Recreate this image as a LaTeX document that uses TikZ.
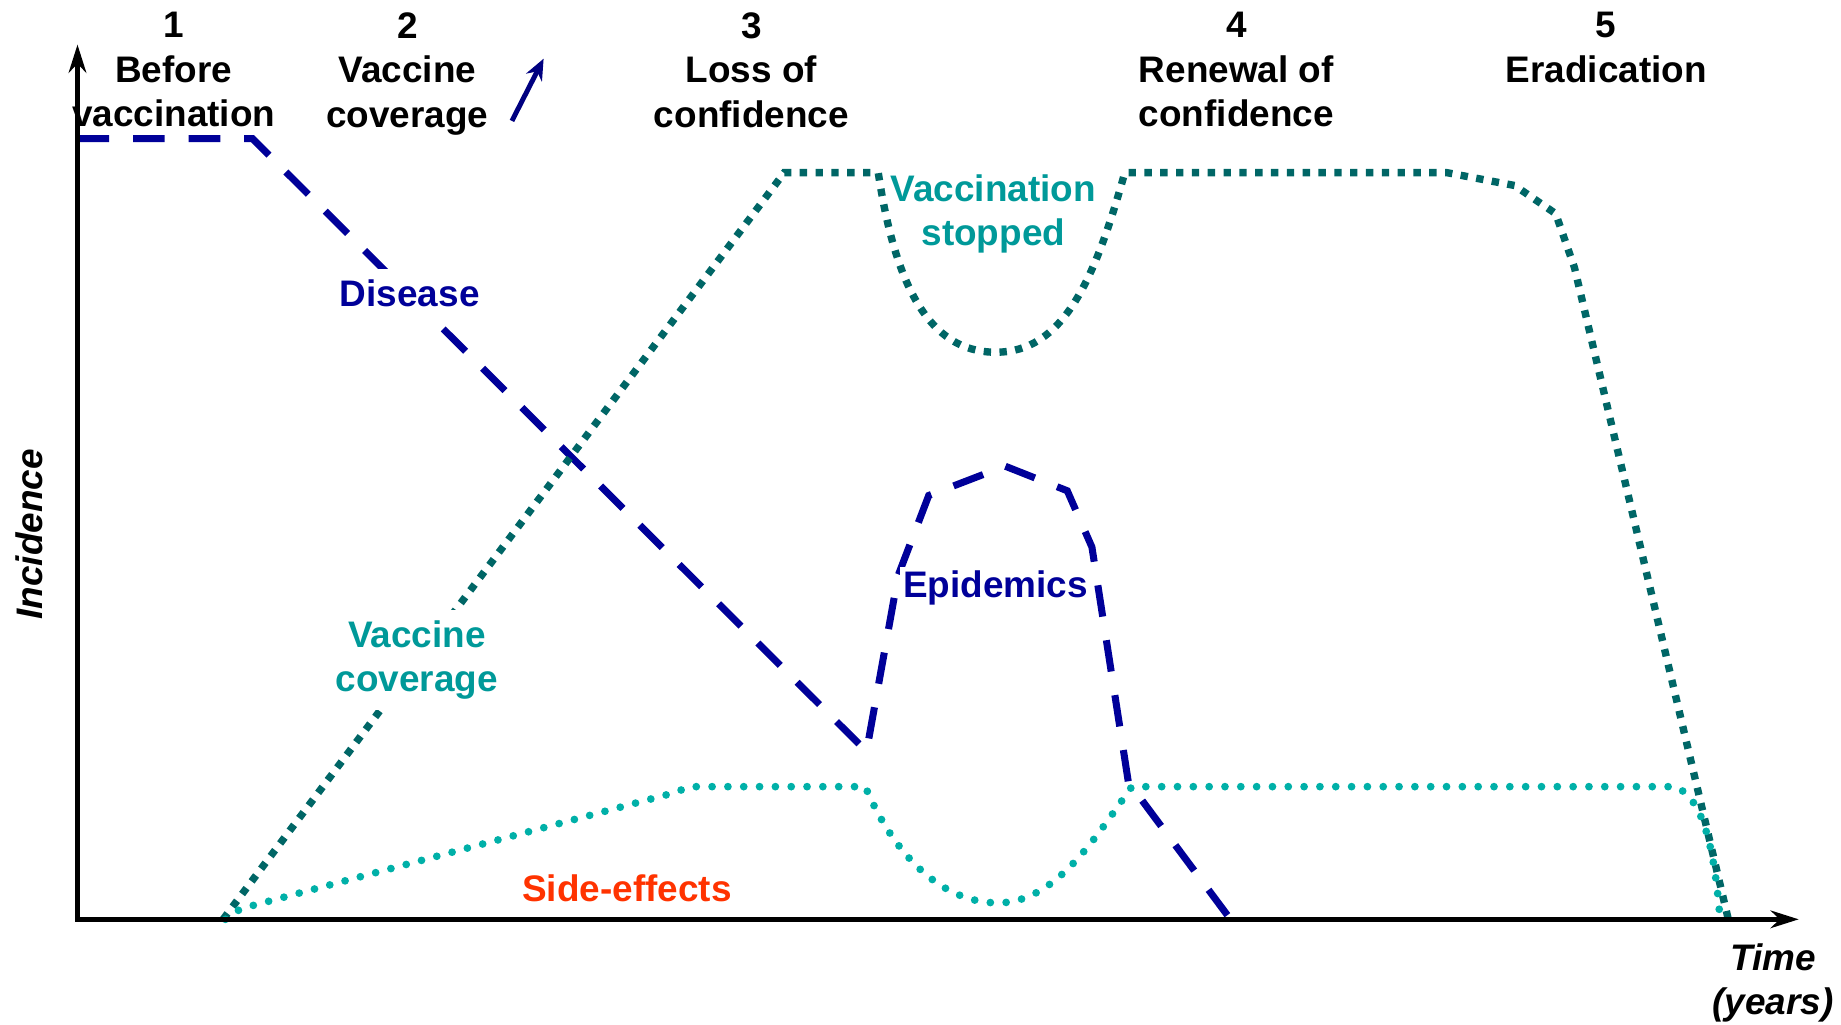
\documentclass[tikz,border=0pt]{standalone}
\usepackage{fontspec}
\setmainfont{Liberation Sans}
\usepackage{tikz}
\usepackage{xcolor}
\usetikzlibrary{arrows.meta}
\definecolor{Navy}{HTML}{000099}
\definecolor{DeepNavy}{HTML}{000080}
\definecolor{DarkTeal}{HTML}{006666}
\definecolor{Teal}{HTML}{009999}
\definecolor{LightTeal}{HTML}{00B0A8}
\definecolor{SideRed}{HTML}{FF3300}

\begin{document}
\begin{tikzpicture}[
    x=0.011741cm, y=-0.011741cm,
    phase_label/.style={
        align=center,
        inner sep=0pt,
        anchor=north,
        font=\fontsize{10.5}{12.65}\selectfont\bfseries,
        text=black
    },
    curve_label/.style={
        align=center,
        inner sep=3pt,
        fill=white,
        font=\fontsize{10.5}{12.65}\selectfont\bfseries
    },
    axis_label/.style={
        align=center,
        inner sep=0pt,
        font=\fontsize{10.5}{12.65}\selectfont\bfseries\itshape
    },
    axis_line/.style={
        {Stealth[length=8pt, width=5pt]}-{Stealth[length=8pt, width=5pt]},
        line width=1.3pt,
        color=black
    },
    disease_line/.style={
        Navy,
        line width=2pt,
        dash pattern=on 9pt off 6.8pt
    },
    coverage_line/.style={
        DarkTeal,
        line width=2.1pt,
        dash pattern=on 2.1pt off 2.4pt
    },
    side_line/.style={
        LightTeal,
        line width=2.2pt,
        line cap=round,
        dash pattern=on 0pt off 4.5pt
    }
]
\useasboundingbox (0,0) rectangle (1568,873);

% =========================
% CURVES
% =========================
% Disease
\draw[disease_line]
    (66,118) -- (215,118) -- (738,640)
    -- (765,490) -- (791,422) -- (856,397) -- (909,418)
    -- (930,466) -- (961,666) -- (1048,783);

% Vaccine coverage
\draw[coverage_line]
    (190,783) -- (668,147) -- (748,147)
    .. controls (762,240) and (790,300) .. (848,300)
    .. controls (905,300) and (932,240) .. (958,147)
    -- (1232,147) -- (1290,158) -- (1325,182) -- (1341,228)
    -- (1472,783);

% Side-effects
\draw[side_line]
    (192,783) -- (205,774) -- (575,675) -- (587,670) -- (737,670)
    .. controls (760,725) and (800,769) .. (850,769)
    .. controls (900,769) and (935,710) .. (964,670)
    -- (1427,670)
    .. controls (1450,680) and (1460,720) .. (1465,783);

% =========================
% CURVE LABELS
% =========================
\node[curve_label, text=Navy, anchor=base] (disease_label)
    at (349,261) {Disease};
\node[curve_label, text=Teal, fill=none, inner sep=0pt, anchor=north] (stopped_label)
    at (846,148) {Vaccination\\stopped};
\node[curve_label, text=Navy, inner sep=1pt, anchor=base] (epidemics_label)
    at (848,509) {Epidemics};
\node[curve_label, text=Teal, anchor=north] (coverage_label)
    at (355,519) {Vaccine\\coverage};
\node[curve_label, text=SideRed, anchor=base] (side_label)
    at (534,768) {Side-effects};

% =========================
% PHASES
% =========================
\node[phase_label] (phase1) at (148,10) {1\\Before\\vaccination};
\node[phase_label] (phase2) at (347,10) {2\\Vaccine\\coverage};
\node[phase_label] (phase3) at (640,10) {3\\Loss of\\confidence};
\node[phase_label] (phase4) at (1053,10) {4\\Renewal of\\confidence};
\node[phase_label] (phase5) at (1368,10) {5\\Eradication};

\coordinate (trend_start) at (436,103);
\coordinate (trend_end) at (463,50);
\draw[-{Stealth[length=6pt, width=5pt]}, DeepNavy, line width=1.4pt]
    (trend_start) -- (trend_end);

% =========================
% AXES
% =========================
\coordinate (origin) at (66,783);
\coordinate (y_top) at (66,38);
\coordinate (x_end) at (1532,783);
\draw[axis_line] (y_top) -- (origin) -- (x_end);

\node[axis_label, rotate=90] (y_label) at (25,455) {Incidence};
\node[axis_label, anchor=north] (x_label) at (1510,803) {Time\\(years)};

\end{tikzpicture}
\end{document}
